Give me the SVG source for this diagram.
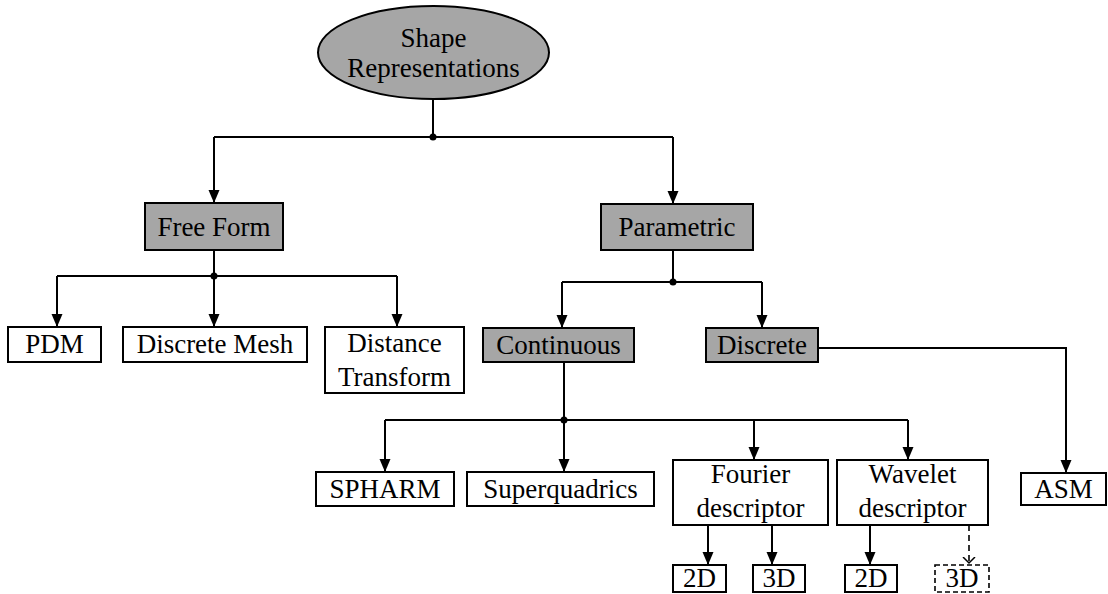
<svg xmlns="http://www.w3.org/2000/svg" width="1108" height="594" viewBox="0 0 1108 594">
<style>
.g{fill:#a6a6a6;stroke:#000;stroke-width:2}
.w{fill:#fff;stroke:#000;stroke-width:2}
.d{fill:#fff;stroke:#000;stroke-width:1.6;stroke-dasharray:5,3}
.c{fill:none;stroke:#000;stroke-width:2}
.cd{fill:none;stroke:#000;stroke-width:1.6;stroke-dasharray:6,4}
</style>
<defs>
<marker id="arr" markerUnits="userSpaceOnUse" markerWidth="14" markerHeight="12" refX="13" refY="6" orient="auto">
<path d="M0,0.5 L13,6 L0,11.5 z" fill="#000"/>
</marker>
<marker id="open" markerUnits="userSpaceOnUse" markerWidth="8" markerHeight="14" refX="6" refY="7" orient="auto">
<path d="M0,1 L6,7 L0,13" fill="none" stroke="#000" stroke-width="1.5"/>
</marker>
</defs>
<g id="connectors">
<path class="c" d="M433,99 V137"/>
<path class="c" d="M214,137 H673"/>
<path class="c" d="M214,137 V203" marker-end="url(#arr)"/>
<path class="c" d="M673,137 V204" marker-end="url(#arr)"/>
<circle cx="433" cy="137" r="3.5"/>
<path class="c" d="M214,250 V276"/>
<path class="c" d="M57,276 H397"/>
<path class="c" d="M57,276 V327" marker-end="url(#arr)"/>
<path class="c" d="M214,276 V327" marker-end="url(#arr)"/>
<path class="c" d="M397,276 V327" marker-end="url(#arr)"/>
<circle cx="214" cy="276" r="3.5"/>
<path class="c" d="M673,250 V282"/>
<path class="c" d="M562,282 H762"/>
<path class="c" d="M562,282 V328" marker-end="url(#arr)"/>
<path class="c" d="M762,282 V328" marker-end="url(#arr)"/>
<circle cx="673" cy="282" r="3.5"/>
<path class="c" d="M818,348 H1066 V473" marker-end="url(#arr)"/>
<path class="c" d="M564,362 V420"/>
<path class="c" d="M385,420 H908"/>
<path class="c" d="M385,420 V472" marker-end="url(#arr)"/>
<path class="c" d="M564,420 V472" marker-end="url(#arr)"/>
<path class="c" d="M754,420 V460" marker-end="url(#arr)"/>
<path class="c" d="M908,420 V460" marker-end="url(#arr)"/>
<circle cx="564" cy="420" r="3.5"/>
<path class="c" d="M708,525 V565" marker-end="url(#arr)"/>
<path class="c" d="M772,525 V565" marker-end="url(#arr)"/>
<path class="c" d="M870,525 V565" marker-end="url(#arr)"/>
</g>
<g font-family="Liberation Serif" font-size="27" text-anchor="middle" fill="#000">
<g id="root"><ellipse class="g" cx="433.5" cy="52.5" rx="115.5" ry="46.5"/><text x="433.5" y="47">Shape</text><text x="433.5" y="77">Representations</text></g>
<g id="freeform"><rect class="g" x="145" y="203" width="138" height="47"/><text x="214" y="236">Free Form</text></g>
<g id="parametric"><rect class="g" x="601" y="204" width="152" height="46"/><text x="677" y="236">Parametric</text></g>
<g id="pdm"><rect class="w" x="8" y="327" width="93" height="35"/><text x="54.5" y="353">PDM</text></g>
<g id="mesh"><rect class="w" x="123" y="327" width="184" height="35"/><text x="215" y="353">Discrete Mesh</text></g>
<g id="distance"><rect class="w" x="325" y="327" width="139" height="66"/><text x="394.5" y="352">Distance</text><text x="394.5" y="386">Transform</text></g>
<g id="continuous"><rect class="g" x="483" y="328" width="151" height="34"/><text x="558.5" y="354">Continuous</text></g>
<g id="discrete"><rect class="g" x="706" y="328" width="112" height="34"/><text x="762" y="354">Discrete</text></g>
<g id="spharm"><rect class="w" x="316" y="472" width="138" height="34"/><text x="385" y="498">SPHARM</text></g>
<g id="superquadrics"><rect class="w" x="467" y="472" width="187" height="34"/><text x="560.5" y="498">Superquadrics</text></g>
<g id="fourier"><rect class="w" x="673" y="460" width="155" height="65"/><text x="750.5" y="483">Fourier</text><text x="750.5" y="517">descriptor</text></g>
<g id="wavelet"><rect class="w" x="837" y="460" width="151" height="65"/><text x="912.5" y="483">Wavelet</text><text x="912.5" y="517">descriptor</text></g>
<g id="asm"><rect class="w" x="1021" y="473" width="85" height="32"/><text x="1063.5" y="498">ASM</text></g>
<g id="f2d"><rect class="w" x="673" y="565" width="53" height="27"/><text x="699.5" y="587">2D</text></g>
<g id="f3d"><rect class="w" x="753" y="565" width="52" height="27"/><text x="779" y="587">3D</text></g>
<g id="w2d"><rect class="w" x="845" y="565" width="52" height="27"/><text x="871" y="587">2D</text></g>
<g id="w3d"><rect class="d" x="935" y="565" width="54" height="27"/><text x="962" y="587">3D</text><path class="cd" d="M969,525 V563" marker-end="url(#open)"/></g>
</g>
</svg>
